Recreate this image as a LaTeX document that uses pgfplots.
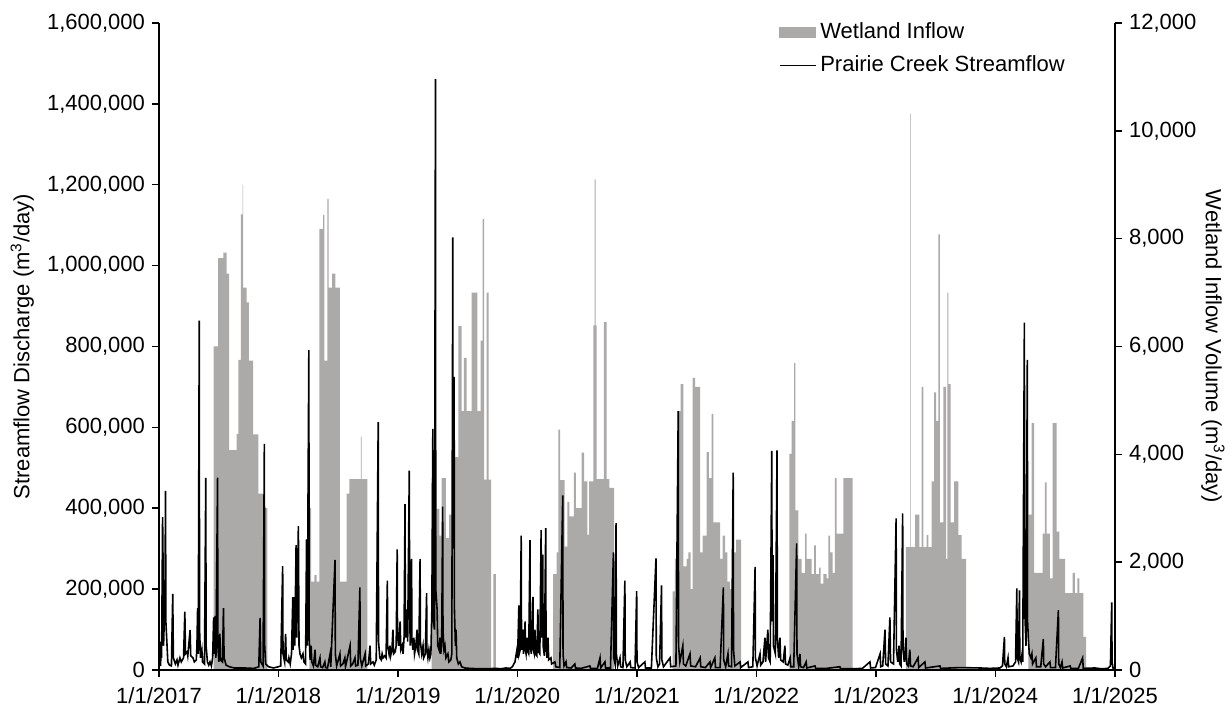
\documentclass[border=0pt]{standalone}
\usepackage{fontspec}
\setmainfont{Liberation Sans}
\setsansfont{Liberation Sans}
\usepackage{pgfplots}
\pgfplotsset{compat=1.18}

\definecolor{wetgray}{RGB}{172,169,169}

\pgfplotsset{
  common/.style={
    at={(0,0)}, anchor=south west,
    scale only axis, width=478pt, height=323.5pt,
    xmin=0, xmax=2922,
    axis line style={line width=0.75pt, black},
    major tick style={line width=0.75pt, black},
    major tick length=3.5pt,
    tick align=outside,
    scaled y ticks=false,
    yticklabel style={/pgf/number format/.cd, fixed, 1000 sep={,}, assume math mode=true},
  }
}

\begin{document}
\begin{tikzpicture}[font=\fontsize{11}{13}\selectfont]
\useasboundingbox (-79.5pt,-18pt) rectangle (536.5pt,335pt);

% wetland inflow, right axis
\begin{axis}[common,
  ymin=0, ymax=12000, ytick distance=2000,
  axis x line=none, axis y line*=right,
  ylabel={Wetland Inflow Volume (m\textsuperscript{3}/day)},
  ylabel style={rotate=180, at={(axis description cs:1.1025,0.5)}, anchor=center},
]
\addplot[fill=wetgray, draw=none, const plot] coordinates {
(0,0)
(167,6000)(181,7640)(196.5,7740)(207,7350)(214,4080)(237.5,4380)(242.4,5750)(250.6,8450)(255.8,9000)(257.5,7090)(268,6820)(275,5740)(288,4370)(303.5,3270)(319,3000)(331,0)
(459.4,3000)(464.6,1640)(474.7,1760)(482,1640)(490,8180)(502,8440)(505.3,5740)(514.4,8740)(518.7,7090)(528.8,7350)(539,7090)(553,1640)(573.7,3270)(581.7,3540)(617.4,4330)(619.6,3540)(636.7,0)
(833.5,3560)(843.6,2480)(848.8,2990)(856.7,2490)(864,3560)(877,2450)(887,2880)(899.5,3950)(914.8,6380)(925,4800)(932,5790)(940.5,4800)(955.8,7000)(973,4800)(983.3,6110)(989.4,8360)(993.4,3530)(1001.6,7000)(1007.7,3530)(1014.8,0)(1021.8,1780)(1030,0)
(1205,1780)(1215.6,2180)(1220.5,4460)(1225.7,3520)(1240,2290)(1248,3120)(1254,2850)(1268.4,3660)(1274.5,3000)(1292,4030)(1299,3500)(1309,2510)(1315,3500)(1327.4,6390)(1331.7,9100)(1334.8,6390)(1337.8,3540)(1360,6450)(1368.3,3540)(1376.3,3380)(1390.7,0)
(1570,1460)(1577,2060)(1585.4,4800)(1594.5,5300)(1602.5,1920)(1613,2060)(1618,2180)(1625,1500)(1631,5420)(1638.3,5250)(1653.6,2180)(1661.8,2490)(1674,4040)(1681,3560)(1689.3,4750)(1694.2,2740)(1714.7,2060)(1723,2490)(1730,2180)(1737,1640)(1745,1500)(1753.5,2180)(1763.6,2420)(1779,0)
(1926.5,4010)(1933.8,4620)(1941,5690)(1944.8,2960)(1954,2060)(1964.4,1800)(1974.5,2530)(1979.7,2060)(1995,1780)(2002,2310)(2008,1780)(2018,1900)(2022.5,1600)(2030.4,1780)(2040.8,1700)(2045.7,2490)(2051,2180)(2059,1800)(2066,3560)(2071.4,2530)(2091.6,3560)(2120.3,0)
(2283,2280)(2295.4,10320)(2297,2280)(2310.7,2880)(2324,2280)(2331.2,5250)(2336,2280)(2346.5,2500)(2351.4,2280)(2361.8,3500)(2368.8,5150)(2375,4620)(2382,8080)(2387,2740)(2397.2,5250)(2405.5,2060)(2409.5,7000)(2412.5,5300)(2419.8,2740)(2430,3500)(2443,2500)(2453.4,2060)(2466.6,0)
(2657,2880)(2667.4,4580)(2674.4,1800)(2701,2530)(2708,3480)(2713.2,2530)(2723.3,1700)(2731.5,4580)(2743.8,2565)(2751.7,2060)(2769.2,1425)(2792.7,1800)(2799.7,1425)(2806.8,1700)(2812.9,1425)(2825,615)(2833.4,0)
(2922,0)
} \closedcycle;
\end{axis}

% streamflow, left axis
\begin{axis}[common,
  ymin=0, ymax=1600000, ytick distance=200000,
  axis y line*=left, axis x line*=bottom,
  xtick={0,365,730,1095,1461,1826,2191,2556,2922},
  xticklabels={1/1/2017,1/1/2018,1/1/2019,1/1/2020,1/1/2021,1/1/2022,1/1/2023,1/1/2024,1/1/2025},
  xticklabel style={yshift=-1.5pt},
  ylabel={Streamflow Discharge (m\textsuperscript{3}/day)},
  ylabel style={at={(axis description cs:-0.143,0.5)}, anchor=center},
  legend style={at={(axis description cs:0.648,1.007)}, anchor=north west,
    draw=none, fill=none, inner sep=0pt, row sep=3pt, font=\fontsize{11}{13}\selectfont},
  legend cell align=left,
]
\addlegendimage{legend image code/.code={\fill[wetgray] (0pt,-2.6pt) rectangle (18pt,2.6pt);}}
\addlegendentry{Wetland Inflow}
\addplot[black, line width=0.8pt,
  legend image code/.code={\draw[black, line width=0.7pt] (0pt,0pt) -- (18pt,0pt);}] coordinates {
(0,8000)(3,20000)(5,10000)(6,70000)(8,30000)(11,378000)(12,300000)(14,60000)(16,120000)(18,150000)(20,443000)(21,120000)(24,70000)(27,20000)(32,12000)(38,10000)(42,188000)(44,30000)(50,15000)(55,25000)(58,12000)(64,30000)(68,20000)(75,30000)(79,144000)(81,40000)(86,45000)(88,35000)(95,99000)(97,35000)(104,30000)(108,20000)(114,25000)(116,60000)(118,153000)(120,40000)(123,864000)(124,100000)(127,30000)(131,50000)(133,20000)(139,15000)(143,475000)(144,60000)(148,20000)(152,12000)(156,20000)(160,10000)(164,30000)(167,130000)(168,40000)(172,134000)(174,30000)(179,476000)(180,60000)(183,20000)(186,90000)(188,25000)(194,20000)(197,153000)(199,30000)(205,12000)(215,8000)(230,5000)(260,5000)(290,4000)(305,8000)(309,129000)(311,20000)(318,10000)(322,559000)(323,60000)(326,15000)(335,8000)(350,5000)(365,8000)(372,10000)(378,257000)(379,40000)(384,20000)(387,89000)(389,25000)(395,20000)(397,30000)(401,15000)(405,40000)(409,180000)(410,50000)(413,180000)(415,60000)(419,309000)(421,80000)(426,356000)(428,60000)(431,40000)(435,30000)(440,40000)(443,20000)(448,15000)(451,323000)(453,60000)(458,791000)(459,80000)(462,25000)(465,60000)(467,20000)(472,10000)(477,50000)(479,12000)(485,8000)(492,30000)(494,8000)(500,6000)(507,20000)(509,6000)(515,5000)(523,40000)(525,8000)(538,272000)(539,40000)(543,10000)(553,40000)(555,10000)(562,15000)(568,30000)(570,8000)(584,60000)(586,10000)(592,15000)(599,30000)(601,10000)(608,12000)(614,204000)(615,30000)(620,10000)(630,40000)(632,10000)(640,15000)(645,60000)(647,15000)(654,20000)(658,12000)(664,25000)(670,613000)(671,70000)(675,30000)(679,25000)(682,40000)(685,30000)(690,35000)(694,30000)(698,221000)(699,60000)(703,40000)(706,60000)(708,35000)(712,50000)(715,100000)(717,40000)(722,45000)(725,60000)(728,298000)(729,90000)(733,60000)(737,120000)(739,50000)(743,60000)(746,40000)(749,80000)(752,410000)(753,120000)(755,80000)(758,150000)(760,70000)(765,493000)(766,150000)(768,60000)(772,275000)(773,80000)(776,50000)(779,80000)(781,40000)(785,60000)(789,100000)(790,50000)(794,40000)(798,274000)(799,70000)(803,40000)(807,60000)(809,30000)(814,40000)(818,190000)(819,50000)(822,30000)(825,50000)(828,30000)(831,40000)(834,150000)(837,596000)(839,120000)(842,100000)(845,1461000)(846,200000)(850,150000)(852,60000)(856,50000)(859,80000)(861,40000)(864,60000)(867,404000)(868,100000)(871,50000)(874,60000)(877,30000)(883,40000)(886,20000)(892,25000)(895,40000)(898,1070000)(899,300000)(902,725000)(903,150000)(906,60000)(908,100000)(910,30000)(915,15000)(920,20000)(925,8000)(935,5000)(950,4000)(980,3000)(1000,3000)(1030,4000)(1045,3000)(1060,5000)(1073,4000)(1080,8000)(1088,20000)(1092,40000)(1094,50000)(1096,30000)(1100,160000)(1101,40000)(1104,50000)(1107,332000)(1108,80000)(1110,50000)(1112,100000)(1114,40000)(1116,60000)(1119,120000)(1120,50000)(1122,40000)(1125,80000)(1127,45000)(1130,40000)(1134,321000)(1135,60000)(1138,40000)(1143,181000)(1144,50000)(1147,40000)(1149,100000)(1151,40000)(1155,35000)(1158,150000)(1160,45000)(1164,40000)(1168,346000)(1169,80000)(1173,285000)(1174,60000)(1178,35000)(1182,351000)(1183,60000)(1186,30000)(1189,80000)(1191,25000)(1198,30000)(1200,15000)(1210,20000)(1213,8000)(1225,6000)(1234,432000)(1235,40000)(1238,10000)(1244,20000)(1246,6000)(1260,5000)(1271,15000)(1273,5000)(1290,4000)(1317,10000)(1319,4000)(1340,4000)(1348,30000)(1350,5000)(1363,20000)(1365,5000)(1380,5000)(1389,291000)(1390,30000)(1394,15000)(1397,363000)(1398,40000)(1402,10000)(1409,30000)(1411,8000)(1418,6000)(1424,221000)(1425,25000)(1430,8000)(1440,20000)(1442,6000)(1455,5000)(1460,195000)(1461,20000)(1466,6000)(1485,20000)(1487,5000)(1505,5000)(1519,276000)(1520,30000)(1525,8000)(1530,15000)(1536,209000)(1537,25000)(1542,8000)(1562,30000)(1564,8000)(1580,10000)(1587,640000)(1588,60000)(1592,20000)(1601,60000)(1603,15000)(1610,10000)(1623,40000)(1625,10000)(1640,8000)(1654,30000)(1656,8000)(1670,6000)(1684,20000)(1686,6000)(1699,30000)(1701,6000)(1715,6000)(1725,204000)(1726,25000)(1732,8000)(1739,40000)(1741,10000)(1750,8000)(1755,488000)(1756,50000)(1760,10000)(1776,20000)(1778,6000)(1800,20000)(1802,6000)(1815,8000)(1822,255000)(1823,30000)(1828,10000)(1837,40000)(1839,12000)(1846,20000)(1852,80000)(1854,20000)(1861,100000)(1863,30000)(1868,20000)(1873,542000)(1874,120000)(1877,284000)(1878,60000)(1884,40000)(1889,543000)(1890,80000)(1894,30000)(1898,80000)(1900,25000)(1908,20000)(1913,60000)(1915,15000)(1922,12000)(1929,30000)(1931,8000)(1940,8000)(1949,313000)(1950,40000)(1955,10000)(1959,40000)(1961,8000)(1970,6000)(1978,20000)(1980,5000)(2005,10000)(2007,4000)(2040,4000)(2081,8000)(2083,3000)(2120,3000)(2150,4000)(2173,20000)(2175,5000)(2190,6000)(2204,40000)(2206,8000)(2212,10000)(2219,100000)(2221,15000)(2228,10000)(2234,130000)(2236,20000)(2245,15000)(2253,375000)(2254,50000)(2258,20000)(2262,60000)(2264,15000)(2268,10000)(2273,387000)(2274,50000)(2278,20000)(2283,80000)(2285,15000)(2290,10000)(2295,50000)(2297,10000)(2305,8000)(2320,30000)(2322,6000)(2341,20000)(2343,5000)(2387,10000)(2389,4000)(2448,6000)(2509,5000)(2540,4000)(2570,5000)(2578,10000)(2584,82000)(2585,15000)(2590,8000)(2595,30000)(2597,8000)(2610,10000)(2618,20000)(2622,202000)(2623,30000)(2627,20000)(2630,197000)(2631,30000)(2635,20000)(2638,40000)(2640,20000)(2645,859000)(2646,150000)(2650,60000)(2654,767000)(2655,120000)(2657,80000)(2660,40000)(2665,30000)(2668,40000)(2670,15000)(2680,30000)(2682,8000)(2695,8000)(2703,77000)(2704,15000)(2710,8000)(2723,20000)(2725,6000)(2740,6000)(2749,148000)(2750,15000)(2755,6000)(2760,20000)(2762,5000)(2785,10000)(2787,4000)(2810,4000)(2823,30000)(2825,4000)(2861,5000)(2880,3000)(2900,4000)(2908,10000)(2912,167000)(2913,20000)(2916,5000)(2922,5000)
};
\addlegendentry{Prairie Creek Streamflow}
\end{axis}
\end{tikzpicture}
\end{document}
